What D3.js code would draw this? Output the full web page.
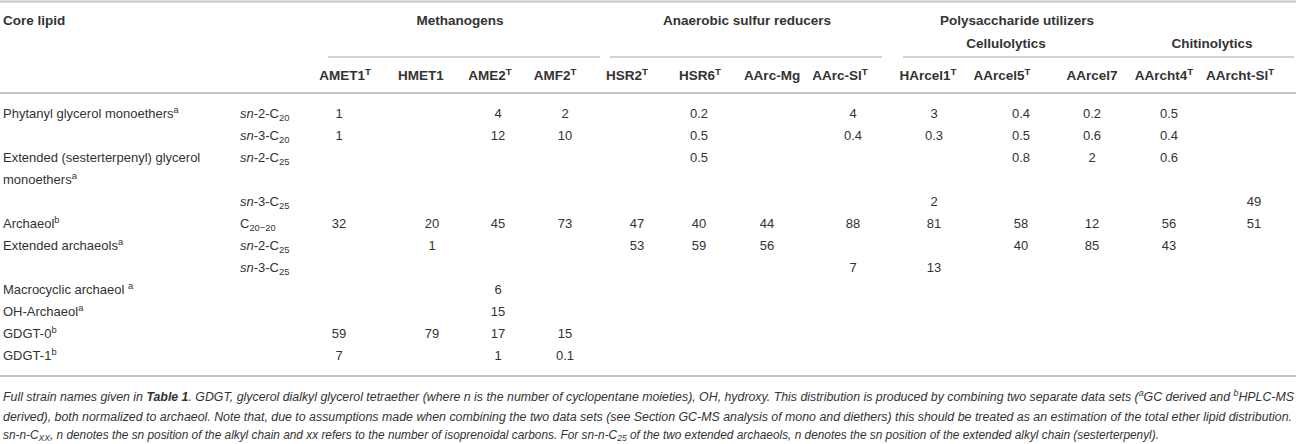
<!DOCTYPE html>
<html>
<head>
<meta charset="utf-8">
<script src="https://cdn.jsdelivr.net/npm/d3@7/dist/d3.min.js"></script>
<style>
body { margin: 0; background: #fff; }
text { font-family: "Liberation Sans", Arial, sans-serif; fill: #333; }
</style>
</head>
<body>
<script>
// strains (columns)
const strains = ["AMET1", "HMET1", "AME2", "AMF2", "HSR2", "HSR6", "AArc-Mg", "AArc-Sl",
  "HArcel1", "AArcel5", "AArcel7", "AArcht4", "AArcht-Sl"];
const typeStrain = [true, false, true, true, true, true, false, true, true, true, false, true, true];

const groups = ["Methanogens", "Anaerobic sulfur reducers", "Polysaccharide utilizers"];
const subgroups = ["Cellulolytics", "Chitinolytics"];

// rows
const lipids = ["Phytanyl glycerol monoethers", "", "Extended (sesterterpenyl) glycerol monoethers", "",
  "Archaeol", "Extended archaeols", "", "Macrocyclic archaeol ", "OH-Archaeol", "GDGT-0", "GDGT-1"];
const lipidNotes = ["a", "", "a", "", "b", "a", "", "a", "a", "b", "b"];
const snPos = ["2", "3", "2", "3", null, "2", "3", null, null, null, null];
const carbons = ["20", "20", "25", "25", "20\u221220", "25", "25", null, null, null, null];

// values (% of core lipids), null = not detected
const values = [
  [1, null, 4, 2, null, 0.2, null, 4, 3, 0.4, 0.2, 0.5, null],
  [1, null, 12, 10, null, 0.5, null, 0.4, 0.3, 0.5, 0.6, 0.4, null],
  [null, null, null, null, null, 0.5, null, null, null, 0.8, 2, 0.6, null],
  [null, null, null, null, null, null, null, null, 2, null, null, null, 49],
  [32, 20, 45, 73, 47, 40, 44, 88, 81, 58, 12, 56, 51],
  [null, 1, null, null, 53, 59, 56, null, null, 40, 85, 43, null],
  [null, null, null, null, null, null, null, 7, 13, null, null, null, null],
  [null, null, 6, null, null, null, null, null, null, null, null, null, null],
  [null, null, 15, null, null, null, null, null, null, null, null, null, null],
  [59, 79, 17, 15, null, null, null, null, null, null, null, null, null],
  [7, null, 1, 0.1, null, null, null, null, null, null, null, null, null]
];

const captionLines = [
  [{t: "Full strain names given in "}, {t: "Table 1", b: true}, {t: ". GDGT, glycerol dialkyl glycerol tetraether (where n is the number of cyclopentane moieties), OH, hydroxy. This distribution is produced by combining two separate data sets ("},
   {t: "a", sup: true}, {t: "GC derived and "}, {t: "b", sup: true}, {t: "HPLC-MS"}],
  [{t: "derived), both normalized to archaeol. Note that, due to assumptions made when combining the two data sets (see Section GC-MS analysis of mono and diethers) this should be treated as an estimation of the total ether lipid distribution."}],
  [{t: "sn-n-C"}, {t: "XX", sub: true}, {t: ", n denotes the sn position of the alkyl chain and xx refers to the number of isoprenoidal carbons. For sn-n-C"}, {t: "25", sub: true},
   {t: " of the two extended archaeols, n denotes the sn position of the extended alkyl chain (sesterterpenyl)."}]
];

// layout
const W = 1296, H = 444;
const xHead = d3.scaleOrdinal(strains, [345, 421, 490, 555, 627, 700, 772, 840, 928, 1002, 1092, 1164, 1240]);
const xVal = d3.scaleOrdinal(strains, [339, 432, 498, 565, 637, 699, 767, 853, 934, 1021, 1092, 1169, 1254]);
const groupX = [460, 747, 1017];
const groupLine = [[328, 600], [610, 882], [903, 1294]];
const subX = [1006, 1212];
const yLine = d3.scaleLinear([0, 1], [113, 135]);
const FS = 13, BFS = 13.5, CFS = 12;
const capY = [401, 421, 439];
const capW = [1291, 1289, 1156];

const svg = d3.select(document.body).append("svg")
  .attr("width", W).attr("height", H);

function rich(sel, segs, size, subShift = 3.5) {
  let shift = 0;
  segs.forEach(s => {
    const ts = sel.append("tspan").text(s.t);
    let target = s.sup ? -5 : s.sub ? subShift : 0;
    if (target !== shift) { ts.attr("dy", target - shift); shift = target; }
    if (s.sup || s.sub) ts.attr("font-size", size * 0.72);
    if (s.b) ts.attr("font-weight", "bold");
    if (s.i) ts.attr("font-style", "italic");
  });
  return sel;
}

function rule(y, x0, x1, w) {
  svg.append("line").attr("x1", x0).attr("x2", x1).attr("y1", y).attr("y2", y)
    .attr("stroke", "#c4c4c4").attr("stroke-width", w);
}

rule(1.5, 0, W, 2);
rule(93, 0, W, 2);
rule(376, 0, W, 2);
groupLine.forEach(g => rule(57, g[0], g[1], 1.5));

// header
const bold = {"font-weight": "bold", "font-size": BFS, fill: "#222"};
function applyAttrs(sel, o) { Object.entries(o).forEach(([k, v]) => sel.attr(k, v)); return sel; }

applyAttrs(svg.append("text").attr("x", 3).attr("y", 25).text("Core lipid"), bold);
groups.forEach((g, i) => applyAttrs(svg.append("text").attr("x", groupX[i]).attr("y", 25)
  .attr("text-anchor", "middle").text(g), bold));
subgroups.forEach((g, i) => applyAttrs(svg.append("text").attr("x", subX[i]).attr("y", 48)
  .attr("text-anchor", "middle").text(g), bold));

strains.forEach((s, i) => {
  const t = applyAttrs(svg.append("text").attr("x", xHead(s)).attr("y", 80)
    .attr("text-anchor", "middle"), bold);
  rich(t, typeStrain[i] ? [{t: s}, {t: "T", sup: true}] : [{t: s}], BFS);
});

// body rows: wrap lipid names, then stack rows
let line = 0;
lipids.forEach((name, r) => {
  const y = yLine(line);
  let nLines = 1;
  if (name) {
    const words = name.trim().split(" ");
    const rows = [[]];
    const probe = svg.append("text").attr("font-size", FS);
    words.forEach(w => {
      const cur = rows[rows.length - 1];
      probe.text(cur.concat(w).join(" "));
      if (cur.length && probe.node().getComputedTextLength() > 236) rows.push([w]);
      else cur.push(w);
    });
    probe.remove();
    rows.forEach((ws, k) => {
      const t = svg.append("text").attr("x", 3).attr("y", yLine(line + k) + 4.5).attr("font-size", FS);
      const segs = [{t: ws.join(" ") + (k === rows.length - 1 && name.endsWith(" ") ? " " : "")}];
      if (k === rows.length - 1 && lipidNotes[r]) segs.push({t: lipidNotes[r], sup: true});
      rich(t, segs, FS).attr("xml:space", "preserve");
    });
    nLines = rows.length;
  }
  if (carbons[r]) {
    const t = svg.append("text").attr("x", 240).attr("y", y + 4.5).attr("font-size", FS);
    const segs = snPos[r] ? [{t: "sn", i: true}, {t: "-" + snPos[r] + "-C"}] : [{t: "C"}];
    segs.push({t: carbons[r], sub: true});
    rich(t, segs, FS);
  }
  svg.selectAll(null).data(values[r].map((v, c) => ({v, s: strains[c]})).filter(d => d.v !== null))
    .join("text")
    .attr("x", d => xVal(d.s)).attr("y", y + 4.5)
    .attr("text-anchor", "middle").attr("font-size", FS)
    .text(d => d.v);
  line += nLines;
});

// caption (justified lines)
captionLines.forEach((segs, i) => {
  const t = svg.append("text").attr("x", 3).attr("y", capY[i])
    .attr("font-size", CFS).attr("font-style", "italic").attr("fill", "#333")
    .attr("xml:space", "preserve");
  rich(t, segs, CFS, 2);
  t.attr("textLength", capW[i]).attr("lengthAdjust", "spacingAndGlyphs");
});
</script>
</body>
</html>
